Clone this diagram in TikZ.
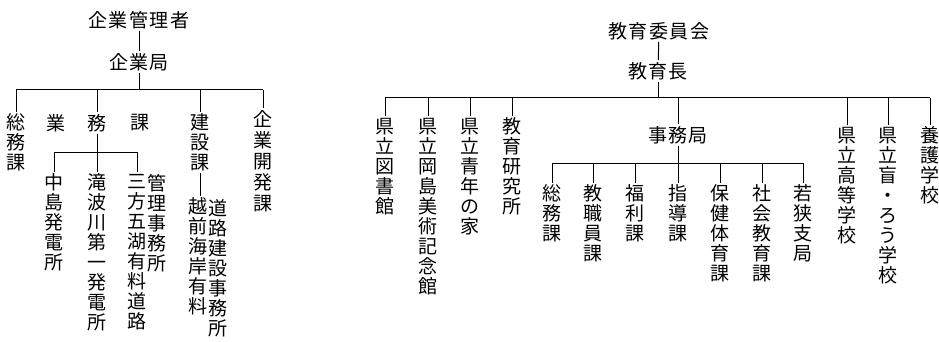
\documentclass[tikz,border=0pt]{standalone}
\usepackage{fontspec}
\newfontfamily\cjk{Noto Sans CJK JP}
\newcommand\gp{\hspace{1.5pt}}
\tikzset{
  vt/.style={font=\cjk\fontsize{19}{20}\selectfont, align=center, inner sep=0pt, outer sep=2pt, anchor=north},
  vtw/.style={vt, font=\cjk\fontsize{19}{21}\selectfont},
  ht/.style={font=\cjk\fontsize{19}{20}\selectfont, inner sep=0pt, outer sep=2pt},
  ln/.style={line width=1pt}
}
\begin{document}
\begin{tikzpicture}[x=1pt,y=-1pt]
\useasboundingbox[fill=white] (0,0) rectangle (939,342);
% ---------------- left chart ----------------
\node[ht] (kanrisha) at (139,20) {企\gp 業\gp 管\gp 理\gp 者};
\node[ht] (kigyokyoku) at (139,62) {企\gp 業\gp 局};
\coordinate (lb) at (139,90);
\coordinate (lb1) at (16,90);
\coordinate (lb2) at (97,90);
\coordinate (lb3) at (200,90);
\coordinate (lb4) at (263,90);
\draw[ln] (kanrisha) -- (kigyokyoku);
\draw[ln] (kigyokyoku) -- (lb);
\draw[ln] (lb1) -- (lb4);

\node[vt] (soumu) at (16,112) {総\\務\\課};
\node[ht] (gyo) at (56,123) {業};
\node[ht] (mu) at (97,123) {務};
\node[ht] (ka) at (140,123) {課};
\node[vt] (kensetsu) at (200,112) {建\\設\\課};
\node[vtw] (kaihatsu) at (263,108) {企\\業\\開\\発\\課};
\draw[ln] (lb1) -- (soumu.north);
\draw[ln] (lb2) -- (mu.north);
\draw[ln] (lb3) -- (kensetsu.north);
\draw[ln] (lb4) -- (kaihatsu.north);

\coordinate (sb) at (97,152);
\coordinate (sb1) at (54,152);
\coordinate (sb3) at (137,152);
\draw[ln] (mu.south) -- (sb);
\draw[ln] (sb1) -- (sb3);
\node[vt] (nakajima) at (54,172) {中\\島\\発\\電\\所};
\node[vt] (takinami) at (97,172) {滝\\波\\川\\第\\一\\発\\電\\所};
\node[vt] (mikata) at (137,172) {三\\方\\五\\湖\\有\\料\\道\\路};
\node[vt] (kanri) at (157,172) {管\\理\\事\\務\\所};
\draw[ln] (sb1) -- (nakajima.north);
\draw[ln] (sb) -- (takinami.north);
\draw[ln] (sb3) -- (mikata.north);

\node[vt] (echizen) at (198,196) {越\\前\\海\\岸\\有\\料};
\node[vt] (doro) at (218,198) {道\\路\\建\\設\\事\\務\\所};
\draw[ln] (kensetsu.south) -- (kensetsu.south |- echizen.north);

% ---------------- right chart ----------------
\node[ht] (iinkai) at (659,31) {教\gp 育\gp 委\gp 員\gp 会};
\node[ht] (kyoikucho) at (658,71) {教\gp 育\gp 長};
\coordinate (rb) at (658,98);
\coordinate (rb1) at (385,98);
\coordinate (rb2) at (428,98);
\coordinate (rb3) at (470,98);
\coordinate (rb4) at (512,98);
\coordinate (rb5) at (678,98);
\coordinate (rb6) at (847,98);
\coordinate (rb7) at (888,98);
\coordinate (rb8) at (930,98);
\draw[ln] (iinkai) -- (kyoikucho);
\draw[ln] (kyoikucho) -- (rb);
\draw[ln] (rb1) -- (rb8);

\node[vt] (tosho) at (385,116) {県\\立\\図\\書\\館};
\node[vt] (bijutsu) at (428,116) {県\\立\\岡\\島\\美\\術\\記\\念\\館};
\node[vt] (seinen) at (470,116) {県\\立\\青\\年\\の\\家};
\node[vt] (kenkyu) at (512,116) {教\\育\\研\\究\\所};
\node[ht] (jimukyoku) at (678,135) {事\gp 務\gp 局};
\node[vt] (koto) at (847,125) {県\\立\\高\\等\\学\\校};
\node[vt] (mou) at (888,125) {県\\立\\盲\\・\\ろ\\う\\学\\校};
\node[vt] (yogo) at (930,125) {養\\護\\学\\校};
\draw[ln] (rb1) -- (tosho.north);
\draw[ln] (rb2) -- (bijutsu.north);
\draw[ln] (rb3) -- (seinen.north);
\draw[ln] (rb4) -- (kenkyu.north);
\draw[ln] (rb5) -- (jimukyoku.north);
\draw[ln] (rb6) -- (koto.north);
\draw[ln] (rb7) -- (mou.north);
\draw[ln] (rb8) -- (yogo.north);

\coordinate (jb) at (678,163);
\coordinate (jb1) at (552,163);
\coordinate (jb2) at (593,163);
\coordinate (jb3) at (635,163);
\coordinate (jb5) at (720,163);
\coordinate (jb6) at (762,163);
\coordinate (jb7) at (803,163);
\draw[ln] (jimukyoku.south) -- (jb);
\draw[ln] (jb1) -- (jb7);

\node[vt] (jsoumu) at (552,183) {総\\務\\課};
\node[vt] (kyoshoku) at (593,183) {教\\職\\員\\課};
\node[vt] (fukuri) at (635,183) {福\\利\\課};
\node[vt] (shido) at (678,183) {指\\導\\課};
\node[vt] (hoken) at (720,183) {保\\健\\体\\育\\課};
\node[vt] (shakai) at (762,183) {社\\会\\教\\育\\課};
\node[vt] (wakasa) at (803,183) {若\\狭\\支\\局};
\draw[ln] (jb1) -- (jsoumu.north);
\draw[ln] (jb2) -- (kyoshoku.north);
\draw[ln] (jb3) -- (fukuri.north);
\draw[ln] (jb) -- (shido.north);
\draw[ln] (jb5) -- (hoken.north);
\draw[ln] (jb6) -- (shakai.north);
\draw[ln] (jb7) -- (wakasa.north);
\end{tikzpicture}
\end{document}
